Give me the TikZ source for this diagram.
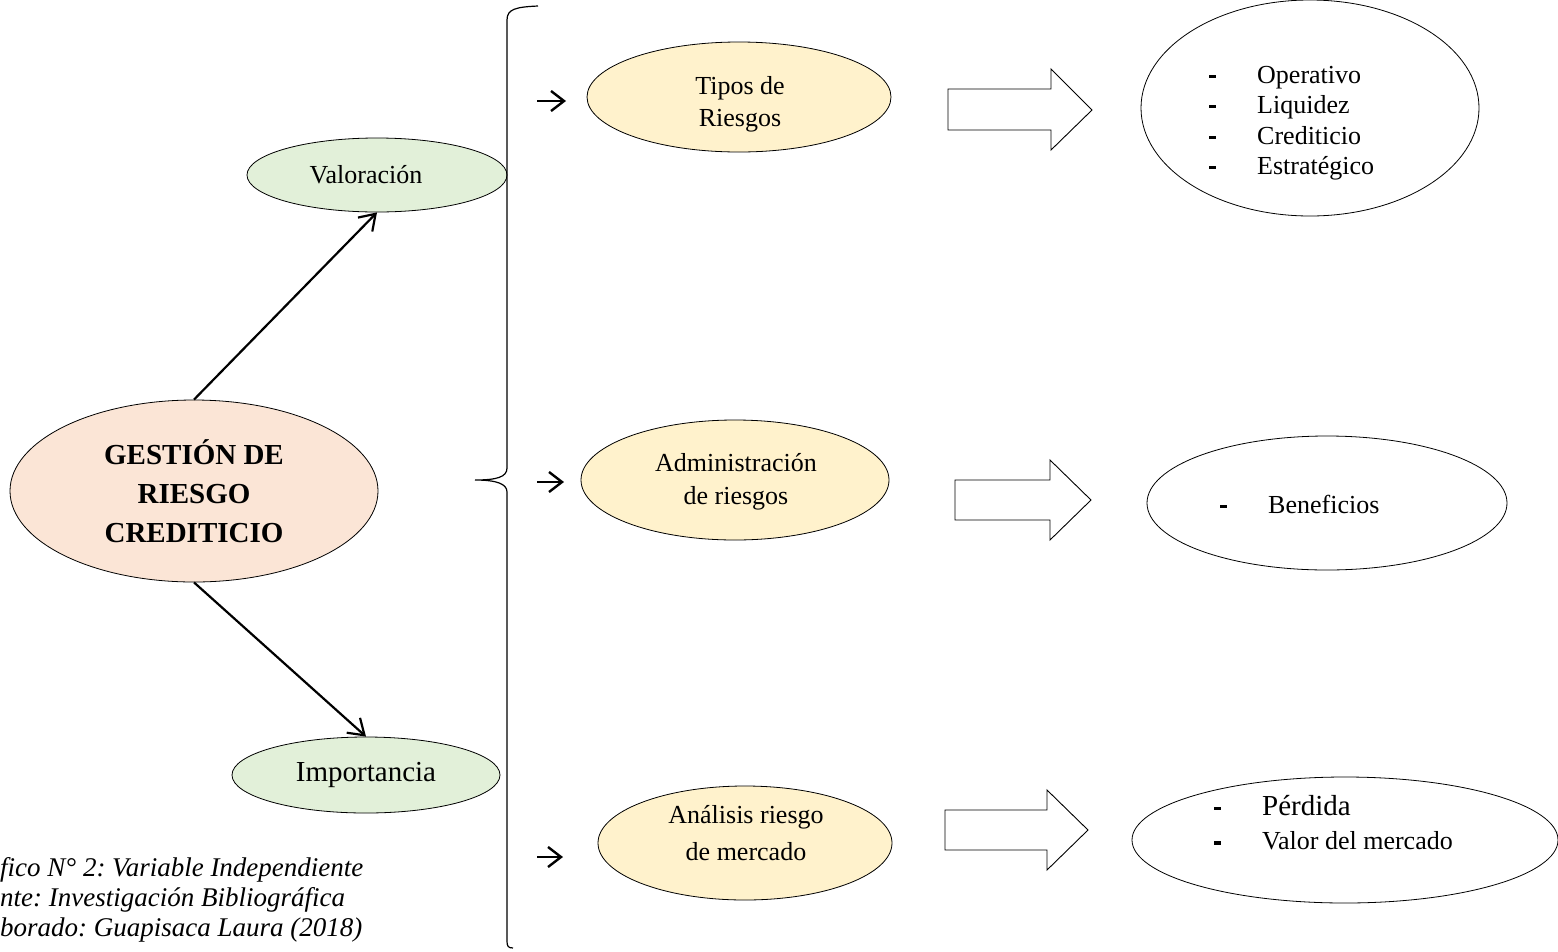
\documentclass[tikz,border=0pt]{standalone}
\usepackage{fontspec}
\setmainfont{Liberation Serif}
\usetikzlibrary{shapes.geometric,arrows.meta}

\definecolor{peach}{HTML}{FBE5D6}
\definecolor{leaf}{HTML}{E2F0D9}
\definecolor{cream}{HTML}{FFF2CC}

% short heavy dash followed by a fixed gap, used for the bullet lists
\newcommand\dashitem{\makebox[48pt][l]{\rule[0.2em]{6.5pt}{3.2pt}}}

\tikzset{
  bubble/.style={ellipse, draw=black, line width=0.8pt, inner sep=0pt, align=center},
  txt/.style={inner sep=0pt, align=left},
  ctxt/.style={inner sep=0pt, align=center},
  conn/.style={line width=2.2pt, -{Straight Barb[length=15pt,width=20pt,line width=2.2pt]}},
  pointer/.style={line width=2.4pt, -{Straight Barb[length=13pt,width=20pt,line width=2.4pt]}},
  blockarrow/.style={draw=black, line width=0.9pt, fill=white, line join=miter},
  bracket/.style={draw=black, line width=1.2pt}
}

\begin{document}
\frenchspacing
\begin{tikzpicture}[x=1pt,y=-1pt]
\useasboundingbox (0,0) rectangle (1558,951);

% central concept
\node[bubble, fill=peach, minimum width=368pt, minimum height=182pt,
      font=\fontsize{29}{39}\selectfont\bfseries] (main) at (194,491)
      {GESTIÓN DE\\RIESGO\\CREDITICIO};

% two branches
\node[bubble, fill=leaf, minimum width=260pt, minimum height=74pt] (val) at (377,175) {};
\node[ctxt, font=\fontsize{26}{30}\selectfont] (valt) at (366,175) {Valoración};
\node[bubble, fill=leaf, minimum width=268pt, minimum height=76pt,
      font=\fontsize{29}{33}\selectfont] (imp) at (366,775) {Importancia};

\draw[conn] (main.north) -- (val.south);
\draw[conn] (main.south) -- (imp.north);

% curly bracket grouping the three topics
\draw[bracket] (538,6) .. controls (516,7) and (507,9) .. (507,20)
  -- (507,468) .. controls (507,477) and (497,480) .. (475,480)
  .. controls (497,480) and (507,484) .. (507,492)
  -- (507,941) .. controls (507,946) and (508,948) .. (513,948);

% topics
\node[bubble, fill=cream, minimum width=304pt, minimum height=110pt] (tipos) at (739,97) {};
\node[ctxt, font=\fontsize{26}{32}\selectfont] (tipost) at (740,104) {Tipos de\\Riesgos};
\node[bubble, fill=cream, minimum width=308pt, minimum height=120pt] (adm) at (735,480) {};
\node[ctxt, font=\fontsize{26}{33}\selectfont] (admt) at (736,482) {Administración\\de riesgos};
\node[bubble, fill=cream, minimum width=294pt, minimum height=114pt] (ana) at (745,843) {};
\node[ctxt, font=\fontsize{26}{37}\selectfont] (anat) at (746,833) {Análisis riesgo\\de mercado};

% small pointers in front of the topics
\coordinate (p1) at (537,101);
\coordinate (p2) at (537,482);
\coordinate (p3) at (537,857);
\draw[pointer] (p1) -- ++(29,0);
\draw[pointer] (p2) -- ++(27,0);
\draw[pointer] (p3) -- ++(26,0);

% block arrows
\draw[blockarrow] (948,89) -- (1051,89) -- (1051,69) -- (1092,110)
  -- (1051,150) -- (1051,130) -- (948,130) -- cycle;
\draw[blockarrow] (955,480) -- (1050,480) -- (1050,460) -- (1091,500)
  -- (1050,540) -- (1050,520) -- (955,520) -- cycle;
\draw[blockarrow] (945,810) -- (1047,810) -- (1047,790) -- (1088,830)
  -- (1047,870) -- (1047,850) -- (945,850) -- cycle;

% outcome ellipses
\node[bubble, minimum width=338pt, minimum height=216pt] (out1) at (1310,108) {};
\node[bubble, minimum width=360pt, minimum height=134pt] (out2) at (1327,503) {};
\node[bubble, minimum width=426pt, minimum height=126pt] (out3) at (1345,840) {};

\node[txt, anchor=west, font=\fontsize{26}{30.5}\selectfont] (list1) at (1209,123)
  {\dashitem Operativo\\ \dashitem Liquidez\\ \dashitem Crediticio\\ \dashitem Estratégico};
\node[txt, anchor=west, font=\fontsize{26}{30}\selectfont] (list2) at (1220,504)
  {\dashitem Beneficios};
\node[txt, anchor=west, font=\fontsize{29}{33}\selectfont] (list3a) at (1214,806)
  {\dashitem Pérdida};
\node[txt, anchor=west, font=\fontsize{26}{30}\selectfont] (list3b) at (1214,841)
  {\dashitem Valor del mercado};

% caption
\node[txt, anchor=west, font=\fontsize{27}{30}\selectfont\itshape] (cap) at (0,900)
  {fico N° 2: Variable Independiente\\nte: Investigación Bibliográfica\\borado: Guapisaca Laura (2018)};
\end{tikzpicture}
\end{document}
